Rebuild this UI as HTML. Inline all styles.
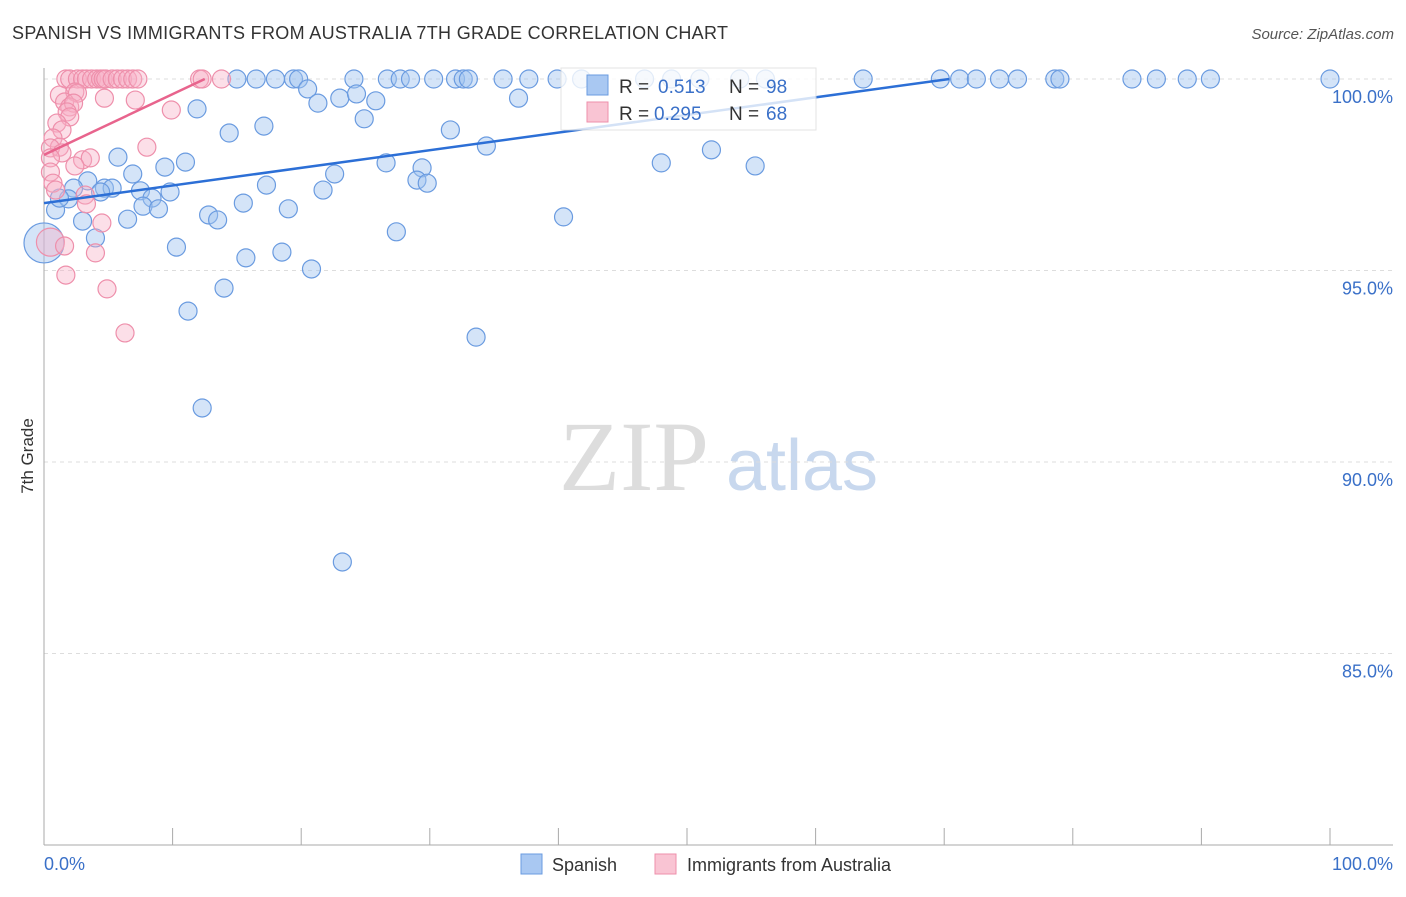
<!DOCTYPE html>
<html><head><meta charset="utf-8"><style>
body{margin:0;background:#fff;font-family:"Liberation Sans",sans-serif;}
</style></head><body>
<svg id="c" width="1406" height="892" xmlns="http://www.w3.org/2000/svg" font-family="Liberation Sans, sans-serif">
<text x="12" y="39" font-size="18" fill="#333" textLength="716">SPANISH VS IMMIGRANTS FROM AUSTRALIA 7TH GRADE CORRELATION CHART</text>
<text x="1394" y="39" font-size="15" fill="#555" text-anchor="end" font-style="italic">Source: ZipAtlas.com</text>
<text transform="translate(33,456) rotate(-90)" font-size="17" fill="#333" text-anchor="middle">7th Grade</text>
<g><text x="634" y="490" font-size="100" fill="#ddd" font-family="Liberation Serif, serif" text-anchor="middle">ZIP</text><text x="802" y="490" font-size="72" fill="#c8d8ee" text-anchor="middle">atlas</text></g>
<g id="grid"></g><g id="axes"></g><g id="pts"></g><g id="trend"></g>
<g>
<rect x="561" y="68" width="255" height="62" fill="#fff" stroke="#ddd" opacity="0.8"/>
<rect x="587" y="75" width="21" height="20" fill="#a9c8f2" stroke="#6a9be0"/>
<rect x="587" y="102" width="21" height="20" fill="#f9c4d3" stroke="#ee8fab"/>
<text x="619" y="93" font-size="19" fill="#333">R =</text><text x="658" y="93" font-size="19" fill="#3a70c8">0.513</text>
<text x="729" y="93" font-size="19" fill="#333">N =</text><text x="766" y="93" font-size="19" fill="#3a70c8">98</text>
<text x="619" y="120" font-size="19" fill="#333">R =</text><text x="654" y="120" font-size="19" fill="#3a70c8">0.295</text>
<text x="729" y="120" font-size="19" fill="#333">N =</text><text x="766" y="120" font-size="19" fill="#3a70c8">68</text>
</g>
<g>
<rect x="521" y="854" width="21" height="20" fill="#a9c8f2" stroke="#6a9be0"/>
<text x="552" y="871" font-size="18" fill="#333">Spanish</text>
<rect x="655" y="854" width="21" height="20" fill="#f9c4d3" stroke="#ee8fab"/>
<text x="687" y="871" font-size="18" fill="#333">Immigrants from Australia</text>
</g>
</svg>
<script>
const yTicks=[100,95,90,85];
const yTickLabels=["100.0%","95.0%","90.0%","85.0%"];
const xTicks=[0,10,20,30,40,50,60,70,80,90,100];
const blueX=[15.0,16.5,18.0,19.4,19.8,24.1,26.7,27.7,28.5,30.3,32.0,32.6,33.0,35.7,37.7,39.9,41.8,46.7,48.8,51.0,54.1,56.1,63.7,69.7,71.2,72.5,74.3,75.7,78.6,79.0,84.6,86.5,88.9,90.7,100,
11.9,20.5,21.3,23.0,24.3,25.8,24.9,36.9,14.4,17.1,31.6,34.4,5.75,11.0,9.4,26.6,29.4,29.0,29.8,22.6,17.3,21.7,6.9,3.4,2.3,4.7,5.3,4.4,7.5,9.8,8.4,7.7,8.9,15.5,19.0,12.8,13.5,6.5,3.0,0.9,1.9,1.2,4.0,10.3,15.7,18.5,20.8,27.4,40.4,48.0,51.9,55.3,14.0,11.2,33.6,12.3,23.2,0.0];
const blueY=[100,100,100,100,100,100,100,100,100,100,100,100,100,100,100,100,100,100,100,100,100,100,100,100,100,100,100,100,100,100,100,100,100,100,100,
99.22,99.74,99.37,99.50,99.61,99.43,98.96,99.50,98.59,98.77,98.67,98.25,97.96,97.83,97.70,97.81,97.68,97.36,97.28,97.52,97.23,97.10,97.52,97.34,97.15,97.15,97.15,97.05,97.08,97.05,96.89,96.68,96.61,96.76,96.61,96.45,96.32,96.34,96.29,96.58,96.87,96.89,95.85,95.61,95.33,95.48,95.04,96.01,96.40,97.81,98.15,97.73,94.54,93.94,93.26,91.41,87.39,95.72];
const pinkX=[1.7,2.0,2.6,3.0,3.3,3.7,4.1,4.4,4.6,4.8,5.3,5.7,6.1,6.5,6.9,7.3,12.1,12.3,13.8,
4.7,7.1,9.9,1.2,2.4,2.6,1.6,2.0,2.3,1.8,2.0,1.0,1.4,0.7,1.2,0.5,1.4,8.0,0.5,3.0,3.6,2.4,0.5,0.7,0.9,3.2,3.3,4.5,0.5,1.6,4.0,1.7,4.9,6.3];
const pinkY=[100,100,100,100,100,100,100,100,100,100,100,100,100,100,100,100,100,100,100,
99.50,99.45,99.19,99.58,99.66,99.63,99.40,99.27,99.37,99.14,99.01,98.85,98.67,98.46,98.22,98.20,98.07,98.22,97.94,97.89,97.94,97.73,97.57,97.28,97.10,96.97,96.74,96.24,95.74,95.64,95.46,94.88,94.52,93.37];
const blueTrend=[[0,96.76],[70.4,100]];
const pinkTrend=[[0,98.02],[12.5,100]];
const sx=v=>44+v*12.86, sy=v=>79+(100-v)*38.3;
const NS="http://www.w3.org/2000/svg";
function mk(p,t,a){const e=document.createElementNS(NS,t);for(const k in a)e.setAttribute(k,a[k]);document.getElementById(p).appendChild(e);return e;}
yTicks.forEach((t,i)=>{
 const l=mk('grid','line',{x1:44,x2:1393,y1:sy(t),y2:sy(t),stroke:'#ddd','stroke-dasharray':'4,4'});
 
 
 const tx=mk('grid','text',{x:1393,y:sy(t)+24,'font-size':18,fill:'#3a70c8','text-anchor':'end'});
 tx.textContent=yTickLabels[i];
 
 
});
let a=mk('axes','line',{x1:44,x2:44,y1:68,y2:845,stroke:'#aaa'});


a=mk('axes','line',{x1:44,x2:1393,y1:845,y2:845,stroke:'#aaa'});


xTicks.forEach(t=>{const l=mk('axes','line',{x1:sx(t),x2:sx(t),y1:828,y2:845,stroke:'#aaa'});
 
 });
let t=mk('axes','text',{x:44,y:870,'font-size':18,fill:'#3a70c8'});t.textContent='0.0%';


t=mk('axes','text',{x:1393,y:870,'font-size':18,fill:'#3a70c8','text-anchor':'end'});t.textContent='100.0%';


blueX.forEach((x,i)=>{const big=(i==blueX.length-1);
 const c=mk('pts','circle',{cx:sx(x),cy:sy(blueY[i]),r:big?20:9,fill:'rgba(160,195,240,0.45)',stroke:'#6a9be0','stroke-width':1.2});
 
 });
pinkX.forEach((x,i)=>{const big=(pinkY[i]==95.74);
 const c=mk('pts','circle',{cx:sx(x),cy:sy(pinkY[i]),r:big?14:9,fill:'rgba(248,175,198,0.4)',stroke:'#ee8fab','stroke-width':1.2});
 
 });
let l=mk('trend','line',{x1:sx(blueTrend[0][0]),y1:sy(blueTrend[0][1]),x2:sx(blueTrend[1][0]),y2:sy(blueTrend[1][1]),stroke:'#2c6fd6','stroke-width':2.5});


l=mk('trend','line',{x1:sx(pinkTrend[0][0]),y1:sy(pinkTrend[0][1]),x2:sx(pinkTrend[1][0]),y2:sy(pinkTrend[1][1]),stroke:'#e8648d','stroke-width':2.5});


</script>
</body></html>
